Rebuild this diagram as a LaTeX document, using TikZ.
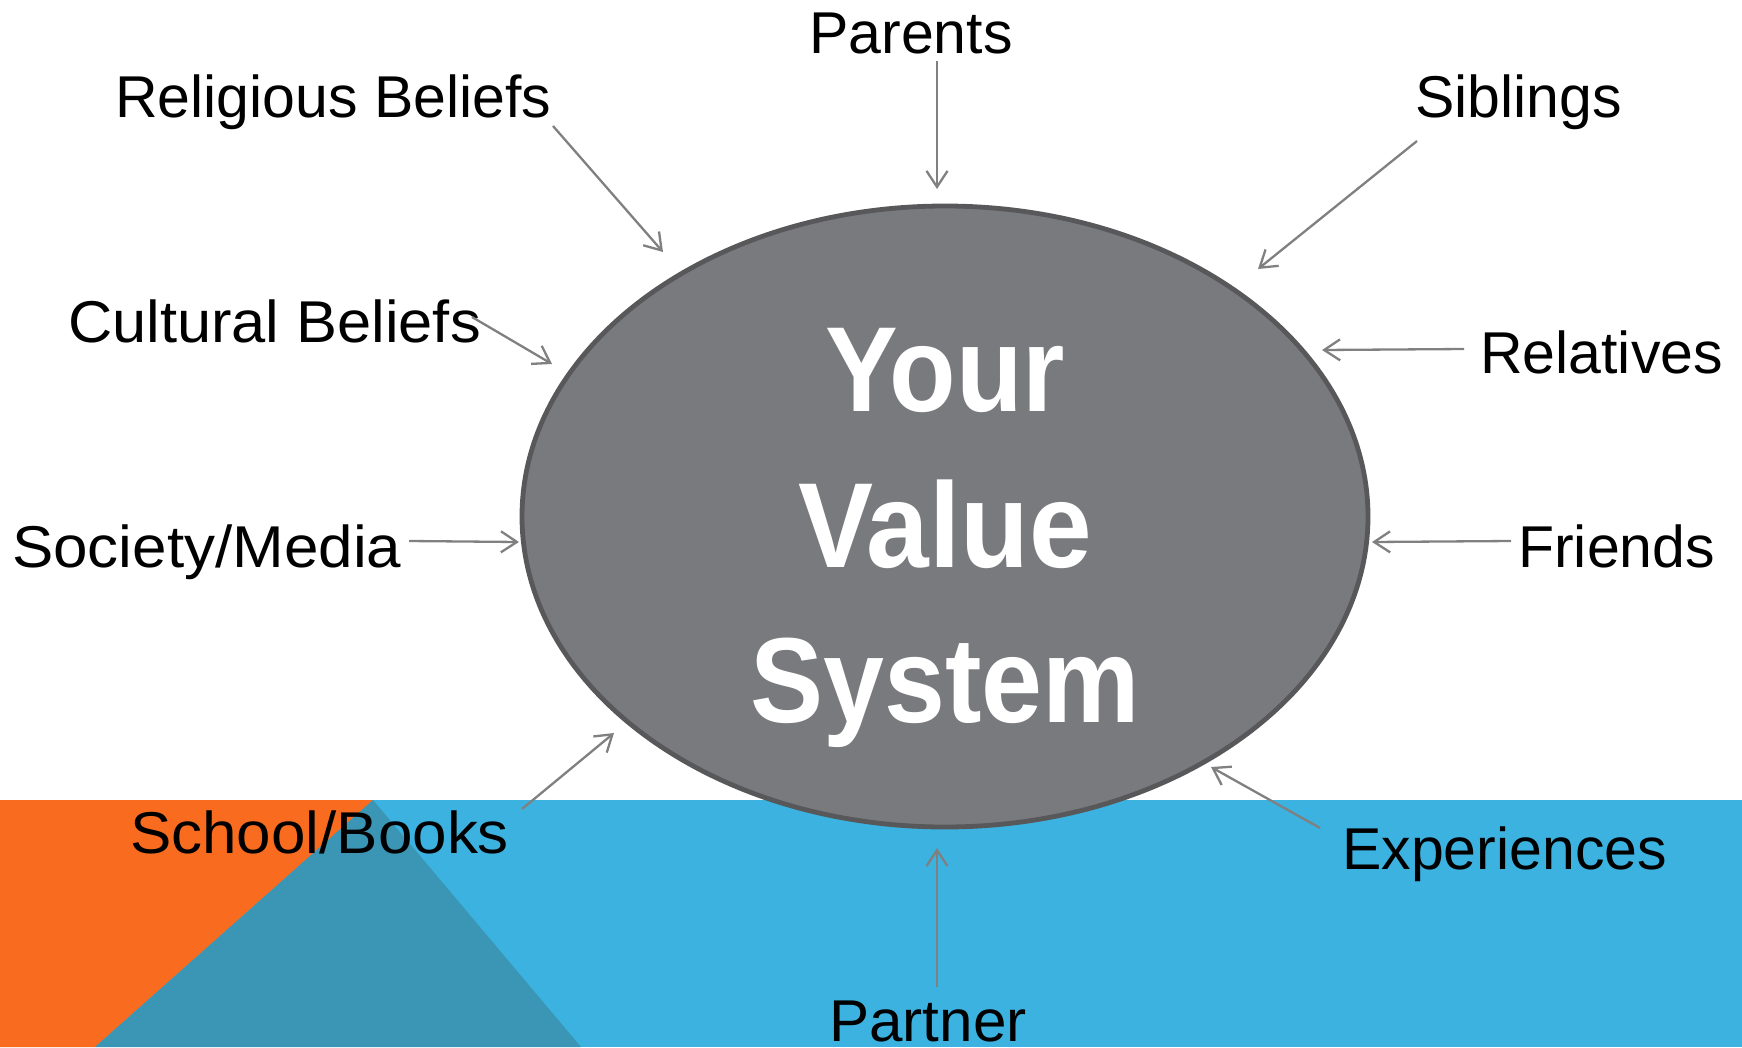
\documentclass[tikz,border=0pt]{standalone}
\usepackage{fontspec}
\setmainfont{Liberation Sans}
\usetikzlibrary{shapes.geometric,arrows.meta}
\definecolor{orng}{HTML}{F96B1E}
\definecolor{teal2}{HTML}{3A96B4}
\definecolor{sky}{HTML}{3BB2E0}
\definecolor{core}{HTML}{797A7E}
\definecolor{coreline}{HTML}{58585A}
\definecolor{arrgray}{HTML}{808080}
\tikzset{
  lbl/.style={anchor=base west, inner sep=0pt, font=\fontsize{59}{59}\selectfont, text=black},
  arr/.style={draw=arrgray, line width=2.3pt, -{Straight Barb[length=16pt,width=21pt,line width=2.3pt]}},
  bigtxt/.style={anchor=base, inner sep=0pt, text=white, font=\fontsize{121}{121}\selectfont\bfseries}
}
\begin{document}
\begin{tikzpicture}[x=1pt,y=-1pt]
\useasboundingbox (0,0) rectangle (1742,1047);
% background band
\fill[sky] (0,800) rectangle (1742,1047);
\fill[orng] (0,800) -- (373,800) -- (95,1047) -- (0,1047) -- cycle;
\fill[teal2] (373,800) -- (581,1047) -- (95,1047) -- cycle;
% core ellipse
\node (vs) [ellipse, draw=coreline, line width=4.8pt, fill=core, minimum width=846pt, minimum height=621pt, inner sep=0pt] at (945,516.5) {};
\node (t1) [bigtxt] at (945,411) {\scalebox{0.9}[1]{Your}};
\node (t2) [bigtxt] at (945,567) {\scalebox{0.93}[1]{Value}};
\node (t3) [bigtxt] at (945,722) {\scalebox{0.905}[1]{System}};
% labels
\node (parents) [lbl] at (809,53) {Parents};
\node (relig) [lbl] at (115,117) {Religious Beliefs};
\node (sibl) [lbl] at (1415,117) {Siblings};
\node (cult) [lbl] at (68,342) {\scalebox{1.04}[1]{Cultural Beliefs}};
\node (rel) [lbl] at (1480,373) {Relatives};
\node (soc) [lbl] at (12,567) {\scalebox{1.05}[1]{Society/Media}};
\node (fri) [lbl] at (1518,567) {Friends};
\node (school) [lbl] at (130,853) {\scalebox{1.05}[1]{School/Books}};
\node (exp) [lbl] at (1342,869) {Experiences};
\node (partner) [lbl] at (829,1041) {\scalebox{1.02}[1]{Partner}};
% arrow endpoints
\coordinate (pa1) at (937,61);   \coordinate (pa2) at (937,189);
\coordinate (re1) at (553,126);  \coordinate (re2) at (663,252);
\coordinate (si1) at (1417,141); \coordinate (si2) at (1258,269);
\coordinate (cu1) at (472,317);  \coordinate (cu2) at (552,364);
\coordinate (rl1) at (1464,349); \coordinate (rl2) at (1322,350);
\coordinate (so1) at (409,541);  \coordinate (so2) at (519,542);
\coordinate (fr1) at (1511,541); \coordinate (fr2) at (1372,542);
\coordinate (sc1) at (522,809);  \coordinate (sc2) at (614,733);
\coordinate (ex1) at (1320,828); \coordinate (ex2) at (1211,767);
\coordinate (pt1) at (937,987);  \coordinate (pt2) at (937,848);
\draw[arr] (pa1) -- (pa2);
\draw[arr] (re1) -- (re2);
\draw[arr] (si1) -- (si2);
\draw[arr] (cu1) -- (cu2);
\draw[arr] (rl1) -- (rl2);
\draw[arr] (so1) -- (so2);
\draw[arr] (fr1) -- (fr2);
\draw[arr] (sc1) -- (sc2);
\draw[arr] (ex1) -- (ex2);
\draw[arr] (pt1) -- (pt2);
\end{tikzpicture}
\end{document}
